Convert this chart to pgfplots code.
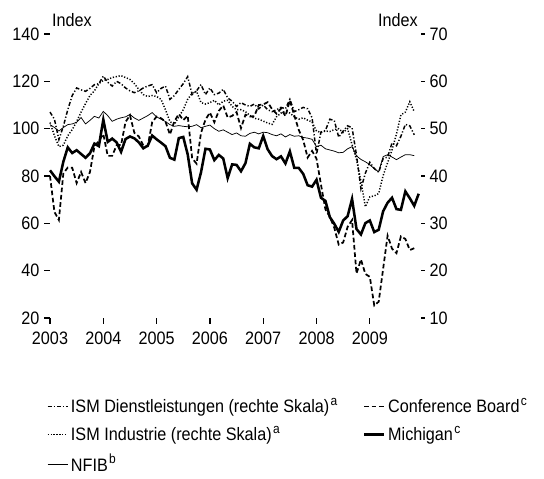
\documentclass[border=0pt]{standalone}
\usepackage{fontspec}
\setmainfont{Liberation Sans}[FakeStretch=0.9]
\usepackage{pgfplots}
\pgfplotsset{compat=1.18}
\usepackage{pgfplotstable}

\newcommand{\fnm}[1]{\kern1pt\raisebox{0.8ex}{\fontsize{10pt}{10pt}\selectfont #1}}

% left scale: m = months since Jan 2003
\pgfplotstableread{
m cb mich nfib
0 80.0 82.4 101.7
1 64.8 79.9 100.5
2 61.4 77.6 99.0
3 81.0 86.0 100.5
4 83.6 92.1 101.7
5 83.5 89.7 102.0
6 77.0 90.9 102.7
7 81.7 89.3 104.7
8 77.0 87.7 102.0
9 81.7 89.6 103.5
10 92.5 93.7 105.2
11 94.8 92.6 104.5
12 97.7 103.8 107.3
13 88.5 94.4 105.5
14 88.5 95.8 103.1
15 93.0 94.2 104.0
16 93.1 90.2 104.6
17 102.8 95.6 105.0
18 105.7 96.7 106.0
19 98.2 95.9 104.5
20 96.7 94.2 103.5
21 92.9 91.7 104.5
22 92.6 92.8 105.5
23 102.7 97.1 106.8
24 105.1 95.5 105.0
25 104.4 94.1 104.0
26 103.0 92.6 103.0
27 97.5 87.7 101.7
28 103.1 86.9 101.0
29 106.2 96.0 101.3
30 103.6 96.5 101.0
31 105.5 89.1 100.8
32 87.5 76.9 101.0
33 85.2 74.2 101.7
34 98.3 81.6 100.4
35 103.8 91.5 101.0
36 106.8 91.2 101.5
37 102.7 86.7 100.0
38 107.5 88.9 98.9
39 109.8 87.4 99.5
40 104.7 79.1 98.5
41 105.4 84.9 97.5
42 107.0 84.7 98.2
43 100.2 82.0 97.0
44 105.9 85.4 96.8
45 105.1 93.6 98.0
46 105.3 92.1 98.5
47 110.0 91.7 97.8
48 110.2 96.9 98.5
49 111.2 91.3 98.3
50 108.2 88.4 97.5
51 106.3 87.1 97.0
52 108.5 88.3 97.8
53 105.3 85.3 96.5
54 111.9 90.4 97.5
55 105.6 83.4 96.8
56 99.5 83.4 97.0
57 95.2 80.9 96.3
58 87.8 76.1 96.0
59 90.6 75.5 95.5
60 87.3 78.4 92.4
61 76.4 70.8 93.0
62 65.9 69.5 91.5
63 62.8 62.6 91.0
64 58.1 59.8 90.5
65 51.0 56.4 89.8
66 51.9 61.2 90.0
67 58.5 63.0 91.5
68 61.4 70.3 92.4
69 38.8 57.6 88.5
70 44.7 55.3 87.0
71 38.6 60.1 86.0
72 37.4 61.2 84.8
73 25.3 56.3 83.0
74 26.9 57.3 81.8
75 40.8 65.1 88.2
76 54.8 68.7 89.0
77 49.3 70.8 88.0
78 47.4 66.0 86.9
79 54.5 65.7 88.0
80 53.4 73.5 89.0
81 48.7 70.6 89.0
82 49.5 67.4 88.6
83 nan 72.5 nan
}\lefttable

% right scale (ISM)
\pgfplotstableread{
m ismd ismi
0 53.5 51.3
1 52.0 48.5
2 47.7 46.2
3 50.5 46.5
4 54.0 48.5
5 57.0 49.8
6 58.6 51.5
7 58.2 53.5
8 57.9 55.3
9 58.5 57.0
10 59.3 58.0
11 59.5 59.5
12 61.1 60.2
13 59.8 60.4
14 59.0 60.8
15 60.0 61.0
16 59.5 61.2
17 58.6 60.8
18 58.0 60.4
19 57.6 59.5
20 58.0 58.3
21 58.6 57.2
22 59.0 56.8
23 59.3 57.0
24 57.6 56.8
25 58.5 56.2
26 59.0 54.0
27 56.2 51.5
28 57.0 50.9
29 58.3 52.5
30 59.5 54.0
31 61.0 56.2
32 57.2 57.5
33 58.0 57.9
34 59.3 55.5
35 57.2 55.2
36 58.6 55.5
37 57.2 56.0
38 57.5 55.0
39 58.3 55.8
40 56.5 56.0
41 55.8 54.7
42 54.7 54.0
43 55.5 54.0
44 55.0 53.6
45 54.7 52.8
46 55.2 52.2
47 54.2 52.0
48 55.0 51.6
49 54.0 51.2
50 53.6 50.9
51 54.0 52.5
52 54.5 53.3
53 54.2 53.6
54 56.2 53.3
55 53.6 52.5
56 54.0 52.0
57 54.5 52.3
58 54.2 51.8
59 52.3 51.4
60 44.6 49.5
61 49.3 49.2
62 49.6 49.5
63 52.0 49.4
64 51.7 49.8
65 48.2 50.0
66 49.5 49.2
67 50.6 50.0
68 50.2 46.6
69 44.4 43.5
70 37.3 38.9
71 40.6 33.5
72 42.9 35.6
73 41.6 35.8
74 40.8 36.3
75 43.7 40.1
76 44.0 42.8
77 47.0 45.5
78 46.4 48.9
79 48.4 52.9
80 50.9 53.5
81 50.6 55.7
82 48.7 53.6
}\righttable

\tikzset{
  ismd/.style={black, line width=1.1pt, dash pattern=on 3pt off 1.5pt on 0.9pt off 1.5pt},
  ismi/.style={black, line width=1.1pt, dash pattern=on 0.9pt off 1.3pt},
  cbs/.style={black, line width=1.3pt, dash pattern=on 3.5pt off 2pt},
  mich/.style={black, line width=1.9pt},
  nfib/.style={black, line width=0.55pt},
}

\begin{document}
\begin{tikzpicture}
\useasboundingbox (0,0) rectangle (408pt,359.25pt);
\begin{axis}[
  at={(37.5pt,120.75pt)}, anchor=south west,
  scale only axis, width=278.25pt, height=213pt,
  xmin=2003, xmax=2009.96, ymin=20, ymax=140,
  xtick={2003,2004,2005,2006,2007,2008,2009},
  ytick={20,40,60,80,100,120,140},
  axis x line*=bottom, axis y line*=left,
  axis line style={draw=none},
  tick align=outside,
  major tick length=4.5pt,
  tick style={black, line width=1pt},
  ticklabel style={font=\fontsize{13.5pt}{15pt}\selectfont},
  x tick label style={yshift=-2.5pt, /pgf/number format/1000 sep={}},
  /pgf/number format/assume math mode=true,
  clip=false,
  legend columns=2,
  legend cell align=left,
  legend style={draw=none, fill=none, at={(axis description cs:-0.02,-0.262)}, anchor=north west,
    font=\fontsize{13.5pt}{15pt}\selectfont, row sep=4.5pt},
  legend image code/.code={\draw[#1] (0pt,0pt) -- (15pt,0pt);},
]
\addlegendimage{ismd}
\addlegendentry{\makebox[217pt][l]{ISM Dienstleistungen (rechte Skala)\fnm{a}}}
\addplot[cbs] table[x expr=2003+\thisrow{m}/12, y=cb] {\lefttable};
\addlegendentry{Conference Board\fnm{c}}
\addlegendimage{ismi}
\addlegendentry{\makebox[217pt][l]{ISM Industrie (rechte Skala)\fnm{a}}}
\addplot[mich] table[x expr=2003+\thisrow{m}/12, y=mich] {\lefttable};
\addlegendentry{Michigan\fnm{c}}
\addplot[nfib] table[x expr=2003+\thisrow{m}/12, y=nfib] {\lefttable};
\addlegendentry{NFIB\fnm{b}}
\node[anchor=base west, inner sep=0pt, font=\fontsize{13.5pt}{15pt}\selectfont] at (axis description cs:0.005,1.025) {Index};
\node[anchor=base east, inner sep=0pt, font=\fontsize{13.5pt}{15pt}\selectfont] at (axis description cs:0.992,1.025) {Index};
\end{axis}
\begin{axis}[
  at={(37.5pt,120.75pt)}, anchor=south west,
  scale only axis, width=278.25pt, height=213pt,
  xmin=2003, xmax=2009.96, ymin=10, ymax=70,
  ytick={10,20,30,40,50,60,70},
  axis x line=none, axis y line*=right,
  axis line style={draw=none},
  tick align=outside,
  major tick length=3pt,
  tick style={black, line width=0.8pt},
  ticklabel style={font=\fontsize{13.5pt}{15pt}\selectfont},
  /pgf/number format/assume math mode=true,
  clip=false,
]
\addplot[ismi] table[x expr=2003+\thisrow{m}/12, y=ismi] {\righttable};
\addplot[ismd] table[x expr=2003+\thisrow{m}/12, y=ismd] {\righttable};
\end{axis}
\end{tikzpicture}
\end{document}
